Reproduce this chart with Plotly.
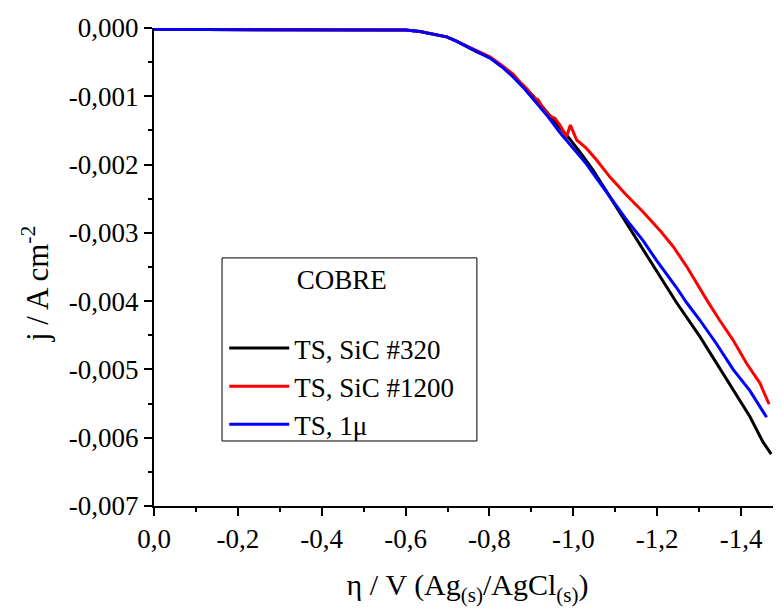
import plotly.graph_objects as go

# ---- data ----
x_black = [0.0, -0.1, -0.2, -0.3, -0.4, -0.5, -0.55, -0.6, -0.634, -0.66, -0.698, -0.72, -0.745, -0.77,
           -0.801, -0.83, -0.857, -0.885, -0.912, -0.94, -0.968, -0.992, -1.02, -1.047, -1.087, -1.127,
           -1.166, -1.206, -1.246, -1.302, -1.341, -1.381, -1.421, -1.452, -1.472]
y_black = [-0.00002, -0.00002, -0.00002, -0.00002, -0.00003, -0.00002, -0.00002, -0.00003, -0.00005,
           -0.00008, -0.00013, -0.00019, -0.00027, -0.00035, -0.00043, -0.00056, -0.00070, -0.00087,
           -0.00105, -0.00125, -0.00146, -0.00163, -0.00185, -0.00208, -0.00247, -0.00286, -0.00325,
           -0.00364, -0.00402, -0.00452, -0.00491, -0.00530, -0.00569, -0.00606, -0.00624]

x_red = [0.0, -0.1, -0.2, -0.3, -0.4, -0.5, -0.55, -0.6, -0.634, -0.66, -0.698, -0.72, -0.745, -0.77,
         -0.801, -0.83, -0.857, -0.8725, -0.892, -0.904, -0.916, -0.928, -0.944, -0.956, -0.968, -0.984,
         -0.993, -1.008, -1.031, -1.055, -1.087, -1.127, -1.166, -1.206, -1.238, -1.270, -1.302, -1.320,
         -1.349, -1.381, -1.413, -1.445, -1.467]
y_red = [-0.00002, -0.00002, -0.00002, -0.00002, -0.00003, -0.00002, -0.00002, -0.00003, -0.00005,
         -0.00008, -0.00013, -0.00019, -0.00026, -0.00034, -0.00042, -0.00055, -0.00068, -0.00079,
         -0.00091, -0.00102, -0.00105, -0.00118, -0.00129, -0.00132, -0.00142, -0.00159, -0.00142,
         -0.00164, -0.00176, -0.00193, -0.00218, -0.00245, -0.00269, -0.00296, -0.00320, -0.00349,
         -0.00382, -0.00400, -0.00428, -0.00457, -0.00491, -0.00520, -0.00551]

x_blue = [0.0, -0.1, -0.2, -0.3, -0.4, -0.5, -0.55, -0.6, -0.634, -0.66, -0.698, -0.72, -0.745, -0.77,
          -0.801, -0.83, -0.857, -0.885, -0.912, -0.94, -0.968, -1.008, -1.031, -1.047, -1.087, -1.127,
          -1.166, -1.198, -1.246, -1.270, -1.302, -1.341, -1.381, -1.421, -1.461]
y_blue = [-0.00002, -0.00002, -0.00002, -0.00002, -0.00003, -0.00002, -0.00002, -0.00003, -0.00005,
          -0.00008, -0.00013, -0.00019, -0.00027, -0.00035, -0.00044, -0.00057, -0.00072, -0.00090,
          -0.00109, -0.00130, -0.00153, -0.00183, -0.00199, -0.00213, -0.00247, -0.00281, -0.00311,
          -0.00340, -0.00380, -0.00402, -0.00428, -0.00462, -0.00500, -0.00531, -0.00570]

series_names = ["TS, SiC #320", "TS, SiC #1200", "TS, 1\u03bc"]
series_colors = ["#000000", "#ff0000", "#0000ff"]

x_tickvals = [0.0, -0.2, -0.4, -0.6, -0.8, -1.0, -1.2, -1.4]
x_ticktext = ["0,0", "-0,2", "-0,4", "-0,6", "-0,8", "-1,0", "-1,2", "-1,4"]
y_tickvals = [0.0, -0.001, -0.002, -0.003, -0.004, -0.005, -0.006, -0.007]
y_ticktext = ["0,000", "-0,001", "-0,002", "-0,003", "-0,004", "-0,005", "-0,006", "-0,007"]

legend_title = "COBRE"
x_title = "\u03b7 / V (Ag<sub>(s)</sub>/AgCl<sub>(s)</sub>)"
y_title = "j / A cm<sup>-2</sup>"

FONT = "Liberation Serif"

fig = go.Figure()
for xs, ys, name, col in zip([x_black, x_red, x_blue], [y_black, y_red, y_blue],
                             series_names, series_colors):
    fig.add_trace(go.Scatter(x=xs, y=ys, mode="lines", name=name,
                             line=dict(color=col, width=3)))

axis_common = dict(showgrid=False, zeroline=False, showline=True, linecolor="black", linewidth=2,
                   ticks="outside", ticklen=8, tickwidth=2, tickcolor="black", mirror=False,
                   tickfont=dict(family=FONT, size=27, color="black"))

fig.update_layout(
    width=773, height=602,
    margin=dict(l=146, r=0, t=20, b=104),
    paper_bgcolor="white", plot_bgcolor="white",
    font=dict(family=FONT, size=27, color="black"),
    xaxis=dict(range=[0, -1.4953], tickvals=x_tickvals, ticktext=x_ticktext,
               minor=dict(tickvals=[-0.1, -0.3, -0.5, -0.7, -0.9, -1.1, -1.3], ticks="outside",
                          ticklen=4, tickwidth=2, tickcolor="black"),
               title=dict(text=x_title, font=dict(family=FONT, size=30, color="black"), standoff=21),
               **axis_common),
    yaxis=dict(range=[-0.007, 0], tickvals=y_tickvals, ticktext=y_ticktext,
               minor=dict(tickvals=[-0.0005, -0.0015, -0.0025, -0.0035, -0.0045, -0.0055, -0.0065],
                          ticks="outside", ticklen=4, tickwidth=2, tickcolor="black"),
               **axis_common),
    legend=dict(x=0.112, y=0.5276, xanchor="left", yanchor="top",
                bgcolor="rgba(0,0,0,0)", borderwidth=0,
                font=dict(family=FONT, size=27, color="black"),
                title=dict(text=legend_title + "<br> ", side="top center",
                           font=dict(family=FONT, size=27, color="black")),
                tracegroupgap=0, itemwidth=60),
    shapes=[dict(type="rect", xref="paper", yref="paper", x0=0.1085, x1=0.515, y0=0.136, y1=0.519,
                 line=dict(color="black", width=1), fillcolor="rgba(0,0,0,0)")],
    annotations=[dict(text=y_title, xref="paper", yref="paper", x=-0.1898, y=0.4644,
                      xanchor="center", yanchor="middle", textangle=-90, showarrow=False,
                      font=dict(family=FONT, size=31, color="black"))],
)

fig.write_html("out.html")
